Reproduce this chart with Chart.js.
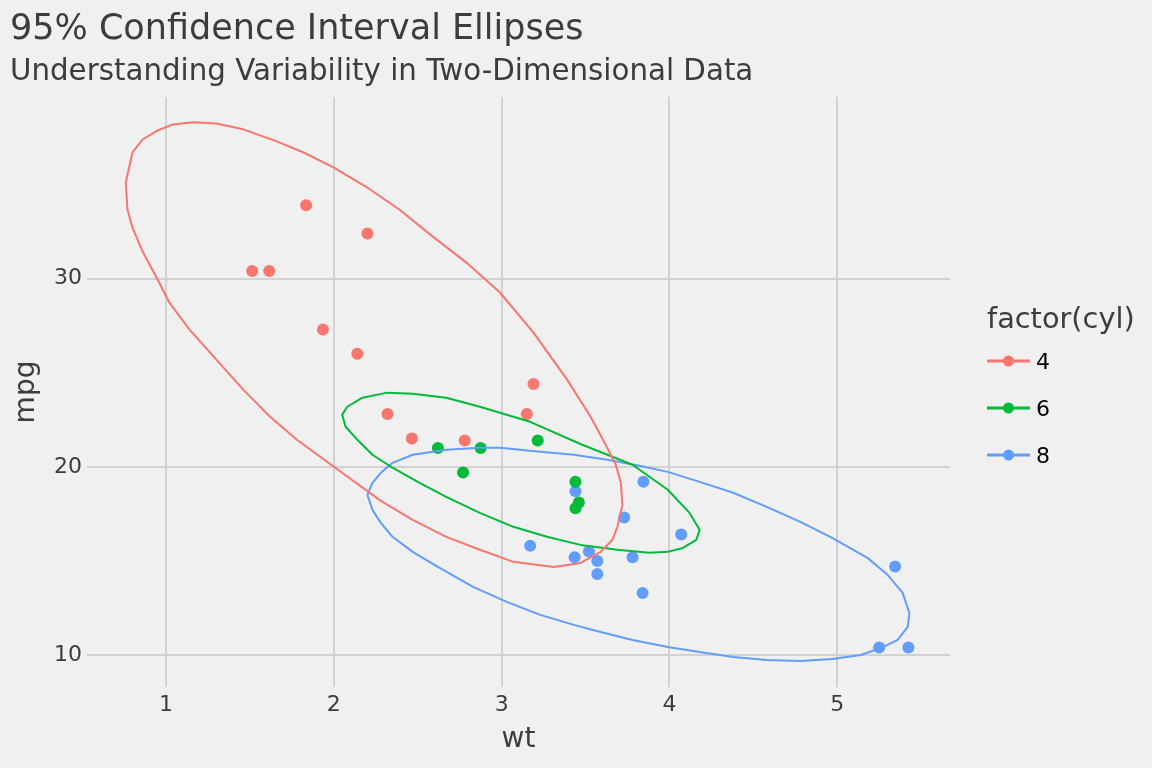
<!DOCTYPE html>
<html>
<head>
<meta charset="utf-8">
<title>95% Confidence Interval Ellipses</title>
<script src="https://cdn.jsdelivr.net/npm/chart.js@4.4.1/dist/chart.umd.min.js"></script>
<style>
  html, body { margin: 0; padding: 0; background: #f0f0f0; }
  #wrap { width: 1152px; height: 768px; }
</style>
</head>
<body>
<div id="wrap"><canvas id="chart" width="1152" height="768"></canvas></div>
<script>
/* mtcars: mpg vs wt by cylinder count, with 95% ellipses. */

const TITLE = "95% Confidence Interval Ellipses";
const SUBTITLE = "Understanding Variability in Two-Dimensional Data";
const X_LABEL = "wt";
const Y_LABEL = "mpg";
const LEGEND_TITLE = "factor(cyl)";

const CYL_LEVELS = ["4", "6", "8"];
const CYL_COLORS = ["#F8766D", "#00BA38", "#619CFF"];

const X_TICKS = [1, 2, 3, 4, 5];
const Y_TICKS = [10, 20, 30];

// points
const WT_4 = [2.32, 3.19, 3.15, 2.2, 1.615, 1.835, 2.465, 1.935, 2.14, 1.513, 2.78];
const MPG_4 = [22.8, 24.4, 22.8, 32.4, 30.4, 33.9, 21.5, 27.3, 26.0, 30.4, 21.4];
const WT_6 = [2.62, 2.875, 3.215, 3.46, 3.44, 3.44, 2.77];
const MPG_6 = [21.0, 21.0, 21.4, 18.1, 19.2, 17.8, 19.7];
const WT_8 = [3.44, 3.57, 4.07, 3.73, 3.78, 5.25, 5.424, 5.345, 3.52, 3.435, 3.84, 3.845, 3.17, 3.57];
const MPG_8 = [18.7, 14.3, 16.4, 17.3, 15.2, 10.4, 10.4, 14.7, 15.5, 15.2, 13.3, 19.2, 15.8, 15.0];

// ellipse outlines
const ELL_WT_4 = [1.16, 1.30, 1.46, 1.66, 1.82, 2.00, 2.19, 2.39, 2.59, 2.79, 2.99, 3.19, 3.39, 3.53, 3.62, 3.68, 3.71, 3.72, 3.69, 3.66, 3.59, 3.47, 3.31, 3.07, 2.87, 2.67, 2.47, 2.28, 2.00, 1.78, 1.62, 1.46, 1.30, 1.14, 1.02, 0.95, 0.86, 0.80, 0.77, 0.76, 0.80, 0.86, 0.95, 1.04, 1.16];
const ELL_MPG_4 = [38.30, 38.24, 37.93, 37.29, 36.70, 35.90, 34.89, 33.67, 32.23, 30.85, 29.26, 27.13, 24.63, 22.66, 21.17, 20.11, 19.15, 17.98, 16.81, 16.12, 15.48, 14.89, 14.68, 14.95, 15.59, 16.28, 17.18, 18.19, 20.00, 21.44, 22.66, 24.10, 25.69, 27.29, 28.72, 29.95, 31.44, 32.71, 33.67, 35.11, 36.70, 37.39, 37.87, 38.19, 38.30];

const ELL_WT_6 = [2.32, 2.47, 2.67, 2.87, 3.17, 3.48, 3.78, 3.99, 4.12, 4.18, 4.16, 4.08, 3.99, 3.88, 3.69, 3.47, 3.27, 3.07, 2.87, 2.67, 2.50, 2.35, 2.23, 2.14, 2.07, 2.05, 2.08, 2.17, 2.32];
const ELL_MPG_6 = [23.94, 23.88, 23.67, 23.19, 22.39, 21.17, 20.11, 18.78, 17.55, 16.65, 16.12, 15.69, 15.48, 15.43, 15.59, 15.85, 16.28, 16.81, 17.55, 18.40, 19.20, 19.95, 20.64, 21.44, 22.13, 22.77, 23.19, 23.67, 23.94];

const ELL_WT_8 = [2.99, 3.23, 3.43, 3.63, 3.82, 3.99, 4.18, 4.38, 4.58, 4.78, 4.97, 5.18, 5.30, 5.39, 5.43, 5.42, 5.36, 5.26, 5.14, 4.97, 4.78, 4.58, 4.38, 4.18, 3.99, 3.78, 3.59, 3.43, 3.23, 3.03, 2.83, 2.62, 2.47, 2.35, 2.28, 2.23, 2.20, 2.23, 2.28, 2.35, 2.47, 2.67, 2.87, 2.99];
const ELL_MPG_8 = [21.01, 20.80, 20.64, 20.37, 20.05, 19.73, 19.20, 18.62, 17.87, 17.07, 16.22, 15.16, 14.26, 13.30, 12.23, 11.49, 10.80, 10.37, 10.00, 9.79, 9.68, 9.73, 9.89, 10.16, 10.43, 10.80, 11.22, 11.60, 12.13, 12.82, 13.62, 14.68, 15.48, 16.28, 17.02, 17.71, 18.51, 19.15, 19.68, 20.21, 20.64, 20.90, 21.01, 21.01];

const TEXT_COLOR = "#3c3c3c";
const GRID_COLOR = "#d2d2d2";
const FONT = "'DejaVu Sans', 'Noto Sans', sans-serif";

function pts(xs, ys) { return xs.map((x, i) => ({ x, y: ys[i] })); }

const POINTS = [pts(WT_4, MPG_4), pts(WT_6, MPG_6), pts(WT_8, MPG_8)];
const ELLIPSES = [pts(ELL_WT_4, ELL_MPG_4), pts(ELL_WT_6, ELL_MPG_6), pts(ELL_WT_8, ELL_MPG_8)];

const datasets = [];
CYL_LEVELS.forEach((lvl, i) => {
  datasets.push({
    label: lvl, data: POINTS[i], order: 2,
    backgroundColor: CYL_COLORS[i], borderWidth: 0, pointRadius: 6, pointHoverRadius: 6,
  });
  datasets.push({
    label: lvl + " ellipse", data: ELLIPSES[i], order: 1, showLine: true,
    borderColor: CYL_COLORS[i], borderWidth: 2, borderJoinStyle: "round",
    pointRadius: 0, tension: 0, fill: false,
  });
});

/* ---- plugins ---- */
const bgPlugin = {
  id: "bg",
  beforeDraw(chart) {
    const { ctx, width, height } = chart;
    ctx.save();
    ctx.fillStyle = "#f0f0f0";
    ctx.fillRect(0, 0, width, height);
    ctx.restore();
  },
};

const legendPlugin = {
  id: "cylLegend",
  afterDraw(chart) {
    const ctx = chart.ctx;
    ctx.save();
    ctx.textBaseline = "alphabetic";
    ctx.textAlign = "left";
    ctx.fillStyle = TEXT_COLOR;
    ctx.font = "28.8px " + FONT;
    ctx.fillText(LEGEND_TITLE, 987, 328);
    CYL_LEVELS.forEach((lvl, i) => {
      const y = 361 + i * 47;
      ctx.strokeStyle = CYL_COLORS[i];
      ctx.lineWidth = 3;
      ctx.beginPath(); ctx.moveTo(987, y); ctx.lineTo(1030, y); ctx.stroke();
      ctx.fillStyle = CYL_COLORS[i];
      ctx.beginPath(); ctx.arc(1008.5, y, 5.5, 0, Math.PI * 2); ctx.fill();
      ctx.fillStyle = "#000";
      ctx.font = "22px " + FONT;
      ctx.fillText(lvl, 1036, y + 8);
    });
    ctx.restore();
  },
};

new Chart(document.getElementById("chart"), {
  type: "scatter",
  data: { datasets },
  options: {
    responsive: false, animation: false, devicePixelRatio: 1,
    events: [],
    layout: { padding: { left: 10, right: 202, top: 0, bottom: 0 } },
    plugins: {
      legend: { display: false },
      tooltip: { enabled: false },
      title: {
        display: true, text: TITLE, align: "start", color: TEXT_COLOR,
        font: { family: FONT, size: 35, weight: "normal", lineHeight: 1.2 },
        padding: { top: 9, bottom: 0 },
      },
      subtitle: {
        display: true, text: SUBTITLE, align: "start", color: TEXT_COLOR,
        font: { family: FONT, size: 29.3, weight: "normal", lineHeight: 1.2 },
        padding: { top: 4, bottom: 6.8 },
      },
    },
    scales: {
      x: {
        type: "linear", min: 0.529, max: 5.672,
        afterBuildTicks: (s) => { s.ticks = X_TICKS.map((v) => ({ value: v })); },
        afterFit: (s) => { s.height = 81; },
        border: { display: false },
        grid: { color: GRID_COLOR, lineWidth: 2, drawTicks: false },
        ticks: { color: TEXT_COLOR, font: { family: FONT, size: 22 }, padding: 5, maxRotation: 0 },
        title: { display: true, text: X_LABEL, color: TEXT_COLOR, font: { family: FONT, size: 28 }, padding: { top: 0, bottom: 11 } },
      },
      y: {
        type: "linear", min: 8.3, max: 39.65,
        afterBuildTicks: (s) => { s.ticks = Y_TICKS.map((v) => ({ value: v })); },
        afterFit: (s) => { s.width = 77; },
        border: { display: false },
        grid: { color: GRID_COLOR, lineWidth: 2, drawTicks: false },
        ticks: { color: TEXT_COLOR, font: { family: FONT, size: 22 }, padding: 5 },
        title: { display: true, text: Y_LABEL, color: TEXT_COLOR, font: { family: FONT, size: 28 }, padding: { top: 0, bottom: 0 } },
      },
    },
  },
  plugins: [bgPlugin, legendPlugin],
});
</script>
</body>
</html>
